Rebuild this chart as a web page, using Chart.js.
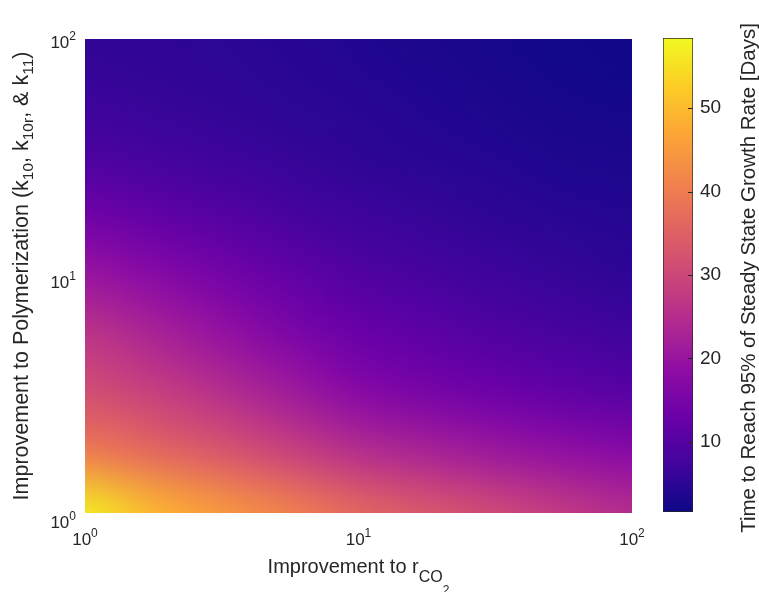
<!DOCTYPE html>
<html>
<head>
<meta charset="utf-8">
<script src="https://cdn.jsdelivr.net/npm/chart.js@4.4.0/dist/chart.umd.min.js"></script>
<style>
    html, body { margin: 0; padding: 0; background: #fff; }
    #wrap { position: relative; width: 759px; height: 592px; }
    #main { position: absolute; left: 0; top: 0; }
    #bar { position: absolute; left: 640px; top: 0; }
</style>
</head>
<body>
<div id="wrap">
    <canvas id="main" width="759" height="592"></canvas>
    <canvas id="bar" width="119" height="592"></canvas>
</div>
<script>
// grid points, quarter decades from 10^0 to 10^2
const rco2Improve = [1, 1.78, 3.16, 5.62, 10, 17.8, 31.6, 56.2, 100]
const polyImprove = [1, 1.78, 3.16, 5.62, 10, 17.8, 31.6, 56.2, 100]

// time to 95% of steady state growth rate [days], one array per polyImprove value
const daysRow0 = [56.8, 49.4, 44.8, 40.8, 36.3, 33.4, 30.6, 27.7, 24.9]
const daysRow1 = [40.3, 36.8, 33.4, 29.4, 25.4, 23.2, 20.9, 19.2, 17.5]
const daysRow2 = [31.7, 28.9, 25.4, 21.5, 17.5, 15.2, 13.5, 11.8, 10.6]
const daysRow3 = [26.6, 23.2, 19.7, 15.8, 12.9, 11.2, 9.5, 8.3, 7.2]
const daysRow4 = [20.3, 17.5, 14.6, 11.8, 9.5, 8.1, 6.9, 6.1, 5.2]
const daysRow5 = [14.0, 11.8, 10.1, 8.3, 6.9, 6.1, 5.2, 4.6, 4.1]
const daysRow6 = [8.9, 7.8, 6.9, 6.1, 5.2, 4.6, 4.1, 3.5, 3.2]
const daysRow7 = [6.6, 6.1, 5.5, 4.9, 4.4, 3.8, 3.2, 2.6, 2.4]
const daysRow8 = [5.5, 5.2, 4.9, 4.4, 3.8, 3.2, 2.6, 2.2, 1.8]
const days = [daysRow0, daysRow1, daysRow2, daysRow3, daysRow4, daysRow5, daysRow6, daysRow7, daysRow8]

const xTicks = [1, 10, 100]
const xTickExp = ['0', '1', '2']
const yTicks = [1, 10, 100]
const yTickExp = ['0', '1', '2']
const cbTicks = [10, 20, 30, 40, 50]
const cbMin = 1.6
const cbMax = 58.4

const fontFamily = '"Liberation Sans", Arial, sans-serif'
const textColor = '#262626'
const plasmaStops = ['#0d0887', '#41049d', '#6a00a8', '#8f0da4', '#b12a90', '#cc4778',
    '#e16462', '#f2844b', '#fca636', '#fcce25', '#f0f921']

function hexRgb(h) {
    return [parseInt(h.slice(1, 3), 16), parseInt(h.slice(3, 5), 16), parseInt(h.slice(5, 7), 16)]
}

function plasma(t) {
    t = Math.min(1, Math.max(0, t))
    const f = t * (plasmaStops.length - 1)
    const i = Math.min(plasmaStops.length - 2, Math.floor(f))
    const w = f - i
    const a = hexRgb(plasmaStops[i]), b = hexRgb(plasmaStops[i + 1])
    return a.map((v, k) => Math.round(v + (b[k] - v) * w))
}

// text with sub/superscripts, parts = [{text, size, dy}]
function drawRich(ctx, parts, x, y, align) {
    let w = 0
    parts.forEach(p => {
        ctx.font = `${p.size}px ${fontFamily}`
        p.w = ctx.measureText(p.text).width
        w += p.w
    })
    let cx = align === 'center' ? x - w / 2 : align === 'right' ? x - w : x
    ctx.textAlign = 'left'
    ctx.textBaseline = 'alphabetic'
    parts.forEach(p => {
        ctx.font = `${p.size}px ${fontFamily}`
        ctx.fillText(p.text, cx, y + (p.dy || 0))
        cx += p.w
    })
}

const heatmap = {
    id: 'heatmap',
    beforeDatasetsDraw(chart) {
        const {ctx, chartArea: a, scales: {x, y}} = chart
        const nx = rco2Improve.length, ny = polyImprove.length
        const off = document.createElement('canvas')
        off.width = nx
        off.height = ny
        const octx = off.getContext('2d')
        const img = octx.createImageData(nx, ny)
        for (let j = 0; j < ny; j++) {
            const row = days[ny - 1 - j]
            for (let i = 0; i < nx; i++) {
                const c = plasma((row[i] - cbMin) / (cbMax - cbMin))
                const k = (j * nx + i) * 4
                img.data[k] = c[0]
                img.data[k + 1] = c[1]
                img.data[k + 2] = c[2]
                img.data[k + 3] = 255
            }
        }
        octx.putImageData(img, 0, 0)

        const x0 = x.getPixelForValue(rco2Improve[0]), x1 = x.getPixelForValue(rco2Improve[nx - 1])
        const y0 = y.getPixelForValue(polyImprove[ny - 1]), y1 = y.getPixelForValue(polyImprove[0])
        const hx = (x1 - x0) / (nx - 1) / 2
        const hy = (y1 - y0) / (ny - 1) / 2
        ctx.save()
        ctx.beginPath()
        ctx.rect(a.left, a.top, a.right - a.left, a.bottom - a.top)
        ctx.clip()
        ctx.imageSmoothingEnabled = true
        ctx.imageSmoothingQuality = 'high'
        ctx.drawImage(off, x0 - hx, y0 - hy, x1 - x0 + 2 * hx, y1 - y0 + 2 * hy)
        ctx.restore()
    }
}

const axisText = {
    id: 'axisText',
    afterDraw(chart) {
        const {ctx, chartArea: a, scales: {x, y}} = chart
        ctx.save()
        ctx.fillStyle = textColor

        xTicks.forEach((v, i) => {
            drawRich(ctx, [{text: '10', size: 17}, {text: xTickExp[i], size: 12, dy: -8}],
                x.getPixelForValue(v), a.bottom + 32, 'center')
        })
        yTicks.forEach((v, i) => {
            const off = i === yTicks.length - 1 ? 9 : (i === 0 ? 15 : 12)
            drawRich(ctx, [{text: '10', size: 17}, {text: yTickExp[i], size: 12, dy: -8}],
                a.left - 9, y.getPixelForValue(v) + off, 'right')
        })

        // x title
        drawRich(ctx, [
            {text: 'Improvement to r', size: 20},
            {text: 'CO', size: 16, dy: 9},
            {text: '2', size: 12, dy: 21}
        ], (a.left + a.right) / 2, a.bottom + 60, 'center')

        // y title
        ctx.translate(28, (a.top + a.bottom) / 2)
        ctx.rotate(-Math.PI / 2)
        drawRich(ctx, [
            {text: 'Improvement to Polymerization (k', size: 21.5},
            {text: '10', size: 15.5, dy: 5},
            {text: ', k', size: 21.5},
            {text: '10r', size: 15.5, dy: 5},
            {text: ', & k', size: 21.5},
            {text: '11', size: 15.5, dy: 5},
            {text: ')', size: 21.5}
        ], 0, 0, 'center')
        ctx.restore()
    }
}

const gridPoints = []
polyImprove.forEach((py, j) => rco2Improve.forEach((px, i) => gridPoints.push({x: px, y: py, v: days[j][i]})))

new Chart(document.getElementById('main'), {
    type: 'scatter',
    data: {
        datasets: [{
            label: 'Time to Reach 95% of Steady State Growth Rate [Days]',
            data: gridPoints,
            pointRadius: 0,
            showLine: false
        }]
    },
    options: {
        responsive: false,
        animation: false,
        events: [],
        layout: {padding: {top: 39, right: 127, left: 0, bottom: 0}},
        plugins: {legend: {display: false}, tooltip: {enabled: false}},
        scales: {
            x: {
                type: 'logarithmic', min: 1, max: 100,
                grid: {display: false, drawTicks: false}, border: {display: false},
                ticks: {display: false},
                afterFit: s => { s.height = 79 }
            },
            y: {
                type: 'logarithmic', min: 1, max: 100,
                grid: {display: false, drawTicks: false}, border: {display: false},
                ticks: {display: false},
                afterFit: s => { s.width = 85 }
            }
        }
    },
    plugins: [heatmap, axisText]
})

function barGradient(c) {
    const chart = c.chart
    if (!chart.chartArea) return plasmaStops[0]
    const y = chart.scales.y
    const g = chart.ctx.createLinearGradient(0, y.getPixelForValue(cbMin), 0, y.getPixelForValue(cbMax))
    plasmaStops.forEach((h, i) => g.addColorStop(i / (plasmaStops.length - 1), h))
    return g
}

const cbExtras = {
    id: 'cbExtras',
    afterDraw(chart) {
        const {ctx, chartArea: a, scales: {y}} = chart
        ctx.save()
        ctx.strokeStyle = textColor
        ctx.lineWidth = 1
        cbTicks.forEach(v => {
            const py = Math.round(y.getPixelForValue(v)) + 0.5
            ctx.beginPath()
            ctx.moveTo(a.right - 5, py)
            ctx.lineTo(a.right, py)
            ctx.stroke()
        })
        ctx.fillStyle = textColor
        ctx.translate(115, (a.top + a.bottom) / 2 + 3)
        ctx.rotate(-Math.PI / 2)
        drawRich(ctx, [{text: 'Time to Reach 95% of Steady State Growth Rate [Days]', size: 20.5}], 0, 0, 'center')
        ctx.restore()
    }
}

new Chart(document.getElementById('bar'), {
    type: 'bar',
    data: {
        labels: ['Days'],
        datasets: [{
            data: [[cbMin, cbMax]],
            backgroundColor: barGradient,
            borderColor: textColor,
            borderWidth: 1,
            borderSkipped: false,
            barPercentage: 1,
            categoryPercentage: 1
        }]
    },
    options: {
        responsive: false,
        animation: false,
        events: [],
        layout: {padding: {left: 23, top: 38, bottom: 80, right: 0}},
        plugins: {legend: {display: false}, tooltip: {enabled: false}},
        scales: {
            x: {display: false},
            y: {
                position: 'right', min: cbMin, max: cbMax,
                grid: {display: false, drawTicks: false}, border: {display: false},
                afterBuildTicks: s => { s.ticks = cbTicks.map(v => ({value: v})) },
                afterFit: s => { s.width = 66 },
                ticks: {padding: 7, color: textColor, font: {family: fontFamily, size: 19}}
            }
        }
    },
    plugins: [cbExtras]
})
</script>
</body>
</html>
